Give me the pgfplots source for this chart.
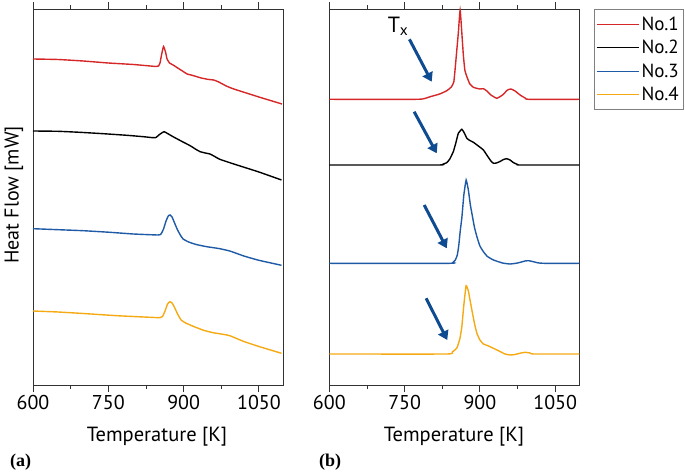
\documentclass[border=0pt]{standalone}
\usepackage{pgfplots}
\pgfplotsset{compat=1.18}
\usetikzlibrary{arrows.meta}
\usepackage{fontspec}
\setmainfont{PT Sans}
\newfontfamily\serifb{Liberation Serif}
\definecolor{cred}{RGB}{214,39,40}
\definecolor{cblue}{RGB}{30,90,165}
\definecolor{corange}{RGB}{245,170,20}
\definecolor{carrow}{RGB}{15,75,145}
\definecolor{axgray}{RGB}{50,50,50}
\pgfplotsset{dsc/.style={scale only axis, width=250pt, height=375.5pt,
  xmin=600, xmax=1098, ymin=0, ymax=375.5,
  xtick={600,750,900,1050}, minor xtick={675,825,975}, ytick=\empty,
  xtick pos=both, tick align=outside, major tick length=7pt, minor tick length=4pt,
  axis line style={color=axgray, line width=0.9pt},
  every tick/.style={axgray, line width=0.9pt},
  tick label style={font=\fontsize{20}{22}\selectfont},
  /pgf/number format/assume math mode=true, /pgf/number format/1000 sep={},
  clip=false}}
\pgfplotsset{curve/.style={line width=1.4pt, smooth, tension=0.25}}
\begin{document}
\begin{tikzpicture}[x=1pt,y=1pt]
\useasboundingbox (0,0) rectangle (685,474);
% (a)
\begin{axis}[dsc, at={(33pt,89pt)}, anchor=south west]
\addplot[curve, cred] coordinates {(600,326)(650,325.5)(700,324)(750,322)(800,320.5)(845,318.5)(850,319)(853,322)(856,330)(860,338.5)(864,333)(867,326)(872,322)(879,320)(893,315.5)(907,311)(915,310)(925,308.5)(935,307)(950,305.5)(960,305)(970,303)(985,299)(1000,296)(1050,288)(1096,281)};
\addplot[curve, black] coordinates {(600,254)(650,253.7)(693,252.7)(740,251.3)(787,249.7)(820,248.3)(839,247.3)(845,247.5)(852,250.5)(861,253.3)(868,251.5)(879,248.3)(895,244)(913,239.3)(925,235.5)(933,233.3)(945,231.8)(952.6,231)(962,228.5)(972,225.7)(1000,221)(1050,213)(1095,205)};
\addplot[curve, cblue] coordinates {(600,156.3)(650,155.3)(700,154.3)(753,152.7)(800,151)(849,150)(855,151)(860,156)(865,164)(870,169.5)(873,170)(877,168)(882,162)(888,155)(894,149.5)(899,146)(910,143)(925,140.5)(946,138.3)(970,136.5)(992,134)(1020,129)(1050,124.7)(1095,119.7)};
\addplot[curve, corange] coordinates {(600,74)(650,73)(700,71.5)(767,69.3)(800,68.5)(853,67.3)(858,68.5)(863,74)(868,81)(873,83.3)(877,82)(882,77.5)(888,71)(895,65)(903,62.3)(920,58.5)(940,54.7)(958.6,52.3)(975,51)(992,49.3)(1020,43.5)(1050,38.5)(1095,31.7)};
\end{axis}
% (b)
\begin{axis}[dsc, at={(329.3pt,89pt)}, anchor=south west,
  legend style={at={(1,1)}, anchor=north west, xshift=14.7pt, yshift=0pt,
    draw=gray, font=\fontsize{19}{22}\selectfont, row sep=4.5pt, inner xsep=2pt, inner ysep=5pt},
  legend cell align=left,
  legend image code/.code={\draw[#1] (0pt,0pt) -- (42pt,0pt);}]
\addlegendimage{cred, line width=1.4pt}
\addlegendentry{No.1}
\addlegendimage{black, line width=1.4pt}
\addlegendentry{No.2}
\addlegendimage{cblue, line width=1.4pt}
\addlegendentry{No.3}
\addlegendimage{corange, line width=1.4pt}
\addlegendentry{No.4}
\addplot[curve, cred, forget plot] coordinates {(600,285.7)(774,285.7)(790,286.5)(801,288.3)(820,291)(834,294.3)(843,298)(848,303)(851,318)(854,335)(857,352)(860.6,375)(864,352)(867,330)(870,315)(874,308.3)(880,301)(887,297.7)(895,296.5)(900,296)(907,296.3)(914,294)(922,290)(933.7,286.7)(945,290)(955,295)(962,296)(970,294)(980,290)(990,287)(997,285.7)(1098,285.7)};
\addplot[curve, black, forget plot] coordinates {(600,220)(817,220)(827,221)(834,222.3)(840,226)(847,233.3)(852,242)(857,251.7)(864,255.7)(869,252)(874,246.7)(880,244.5)(887,242.7)(897,239)(907,235)(915,229)(922,224)(927,221.7)(933,222)(940,223.5)(947,225.5)(953.6,226.3)(960,225)(967,222.3)(975,220.5)(980,220)(1098,220)};
\addplot[curve, cblue, forget plot] coordinates {(600,121.7)(840,121.7)(846,122.5)(851,125)(855,130)(858,140)(861,155)(864,167)(868,190)(872.6,205)(877,195)(881,180)(884,171.7)(889,158)(894,148.3)(900,139)(907,133.3)(915,128.5)(927,125)(945,122)(960,121)(975,122)(990,124)(997,124.3)(1005,123.5)(1015,122.2)(1027,121.7)(1098,121.7)};
\addplot[curve, corange, forget plot] coordinates {(600,31)(834,31)(845,33)(854,37)(860,46)(864,58.3)(868,80)(872.5,99.3)(877,94)(881,83)(884,75)(889,62)(894,51.7)(900,45)(907,41)(915,39.5)(927,36.7)(940,33.5)(950,31)(960,30)(970,30.5)(980,31.8)(990,32.7)(1000,32)(1007,31)(1098,31)};
\draw[carrow, line width=3pt, -{Triangle[length=9pt,width=11pt]}] (axis cs:759.6,345.7) -- (axis cs:804,303.3);
\draw[carrow, line width=3pt, -{Triangle[length=9pt,width=11pt]}] (axis cs:769,273.3) -- (axis cs:814,231.7);
\draw[carrow, line width=3pt, -{Triangle[length=9pt,width=11pt]}] (axis cs:789,180) -- (axis cs:834,136.7);
\draw[carrow, line width=3pt, -{Triangle[length=9pt,width=11pt]}] (axis cs:792.8,86.7) -- (axis cs:835,45);
\node[font=\fontsize{22}{24}\selectfont] at (axis cs:737,359) {T\textsubscript{x}};
\end{axis}
\node[rotate=90, font=\fontsize{20}{22}\selectfont] at (14,279) {Heat Flow [mW]};
\node[font=\fontsize{20.5}{22}\selectfont] at (157,37) {Temperature [K]};
\node[font=\fontsize{20.5}{22}\selectfont] at (454,37) {Temperature [K]};
\node[anchor=base west, font=\fontsize{18}{20}\selectfont\serifb\bfseries, inner sep=0pt] at (10,8) {(a)};
\node[anchor=base west, font=\fontsize{18}{20}\selectfont\serifb\bfseries, inner sep=0pt] at (319,8) {(b)};
\end{tikzpicture}
\end{document}
